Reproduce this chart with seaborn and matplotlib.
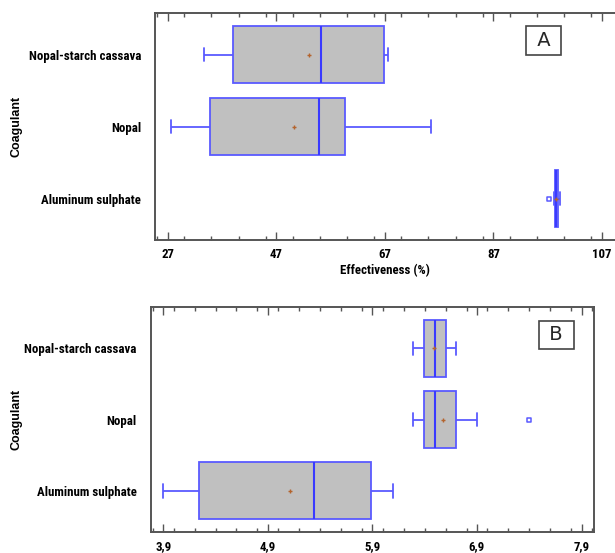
import numpy as np
import pandas as pd
import seaborn as sns
import matplotlib
matplotlib.use("Agg")
import matplotlib.pyplot as plt
from matplotlib import font_manager as fm
from matplotlib.ticker import MultipleLocator, FixedLocator

# ---------------- data ----------------
coagulants = ["Nopal-starch cassava", "Nopal", "Aluminum sulphate"]

# Panel A - Effectiveness (%)
a_whisker_low = [33.6, 27.5, 98.2]
a_q1 = [39.0, 34.7, 98.25]
a_median = [55.2, 54.8, 98.5]
a_q3 = [66.9, 59.6, 98.95]
a_whisker_high = [67.6, 75.5, 99.3]
a_mean = [52.9, 50.3, 98.6]
a_outlier_cat = ["Aluminum sulphate"]
a_outlier_val = [97.3]
a_ticks = [27, 47, 67, 87, 107]
a_ticklabels = ["27", "47", "67", "87", "107"]

# Panel B
b_whisker_low = [6.29, 6.29, 3.90]
b_q1 = [6.395, 6.395, 4.24]
b_median = [6.50, 6.50, 5.34]
b_q3 = [6.60, 6.695, 5.89]
b_whisker_high = [6.695, 6.90, 6.10]
b_mean = [6.49, 6.58, 5.11]
b_outlier_cat = ["Nopal"]
b_outlier_val = [7.40]
b_ticks = [3.9, 4.9, 5.9, 6.9, 7.9]
b_ticklabels = ["3,9", "4,9", "5,9", "6,9", "7,9"]

# ---------------- style ----------------
sns.set_theme(style="white")
plt.rcParams["font.family"] = ["Liberation Sans", "DejaVu Sans"]

BOX_FILL = "#c0c0c0"
BOX_EDGE = "#5a5aff"
MED_C = "#3a3aff"
MEAN_C = "#b4642d"
SPINE_C = "#555555"

# pick a narrow bold font if one is available
_names = {f.name for f in fm.fontManager.ttflist}
NARROW_FAMILY = None
for cand in ["Liberation Sans Narrow", "Arial Narrow", "DejaVu Sans Condensed",
             "Roboto Condensed", "Open Sans Condensed", "Noto Sans Condensed"]:
    if cand in _names:
        NARROW_FAMILY = cand
        break
if NARROW_FAMILY is None:
    NARROW_FAMILY = "Liberation Sans"
LABEL_FONT = [NARROW_FAMILY, "DejaVu Sans"]

fig = plt.figure(figsize=(6.15, 5.53), dpi=100)

# size the tick-label font so the longest category label is ~112 px wide
_r = fig.canvas.get_renderer()
_t = fig.text(0, 0, coagulants[0], fontsize=10, fontweight="bold",
              fontfamily=LABEL_FONT)
_w = _t.get_window_extent(renderer=_r).width
_t.remove()
LABEL_SIZE = min(10.0 * 112.0 / _w, 9.5)


def long_frame(lo, q1, med, q3, hi):
    rows = []
    for i, c in enumerate(coagulants):
        for v in (lo[i], q1[i], med[i], q3[i], hi[i]):
            rows.append({"coagulant": c, "value": v})
    return pd.DataFrame(rows)


def draw_panel(ax, df, means, out_cat, out_val, ticks, ticklabels, minor, xlim,
               letter, letter_xy, xlabel):
    sns.boxplot(data=df, x="value", y="coagulant", order=coagulants, orient="h",
                whis=(0, 100), width=0.8, color=BOX_FILL, linecolor=BOX_EDGE,
                saturation=1, linewidth=1.3, showfliers=False, ax=ax,
                capwidths=0.19,
                medianprops=dict(color=MED_C, linewidth=1.5))
    mdf = pd.DataFrame({"coagulant": coagulants, "value": means})
    sns.stripplot(data=mdf, x="value", y="coagulant", order=coagulants,
                  orient="h", jitter=False, marker="+", color=MEAN_C,
                  size=3.5, linewidth=1, ax=ax, zorder=6)
    odf = pd.DataFrame({"coagulant": out_cat, "value": out_val})
    sns.stripplot(data=odf, x="value", y="coagulant", order=coagulants,
                  orient="h", jitter=False, marker="s", color="white",
                  edgecolor=BOX_EDGE, size=3.2, linewidth=1.1, ax=ax, zorder=6)

    ax.set_xlim(*xlim)
    ax.set_ylim(2.575, -0.578)
    ax.xaxis.set_major_locator(FixedLocator(ticks))
    ax.set_xticklabels(ticklabels)
    ax.xaxis.set_minor_locator(MultipleLocator(minor))
    ax.tick_params(axis="x", which="both", direction="in", top=True,
                   bottom=True, color=SPINE_C, width=1.0, pad=6)
    ax.tick_params(axis="x", which="major", length=6)
    ax.tick_params(axis="x", which="minor", length=3)
    ax.tick_params(axis="y", length=0, pad=10)
    for lbl in ax.get_xticklabels() + ax.get_yticklabels():
        lbl.set_fontfamily(LABEL_FONT)
        lbl.set_fontweight("bold")
        lbl.set_fontsize(LABEL_SIZE)
        lbl.set_color("black")
    for s in ax.spines.values():
        s.set_color(SPINE_C)
        s.set_linewidth(1.4)
    ax.set_ylabel("Coagulant", fontsize=9, fontweight="bold", color="black")
    ax.yaxis.set_label_coords(22.5 / 615, 0.5 * (ax.get_position().y0 +
                                                  ax.get_position().y1),
                              transform=fig.transFigure)
    if xlabel:
        ax.set_xlabel(xlabel, fontsize=LABEL_SIZE, fontweight="bold",
                      fontfamily=LABEL_FONT, labelpad=2, color="black")
    else:
        ax.set_xlabel("")
    ax.text(letter_xy[0], letter_xy[1], " " + letter + " ",
            transform=ax.transAxes, ha="center", va="center", fontsize=14,
            fontfamily="DejaVu Sans",
            bbox=dict(boxstyle="square,pad=0.25", facecolor="white",
                      edgecolor="#444444", linewidth=1.2))


ax_a = fig.add_axes([0.252, 0.566, 0.748, 0.4105])
ax_b = fig.add_axes([0.245, 0.0385, 0.721, 0.4058])

df_a = long_frame(a_whisker_low, a_q1, a_median, a_q3, a_whisker_high)
df_b = long_frame(b_whisker_low, b_q1, b_median, b_q3, b_whisker_high)

draw_panel(ax_a, df_a, a_mean, a_outlier_cat, a_outlier_val, a_ticks,
           a_ticklabels, 5, (24.6, 109.4), "A", (0.845, 0.879),
           "Effectiveness (%)")
ax_a.spines["right"].set_visible(False)
draw_panel(ax_b, df_b, b_mean, b_outlier_cat, b_outlier_val, b_ticks,
           b_ticklabels, 0.2, (3.78, 8.02), "B", (0.915, 0.877), None)

fig.savefig("out.png", dpi=100)
